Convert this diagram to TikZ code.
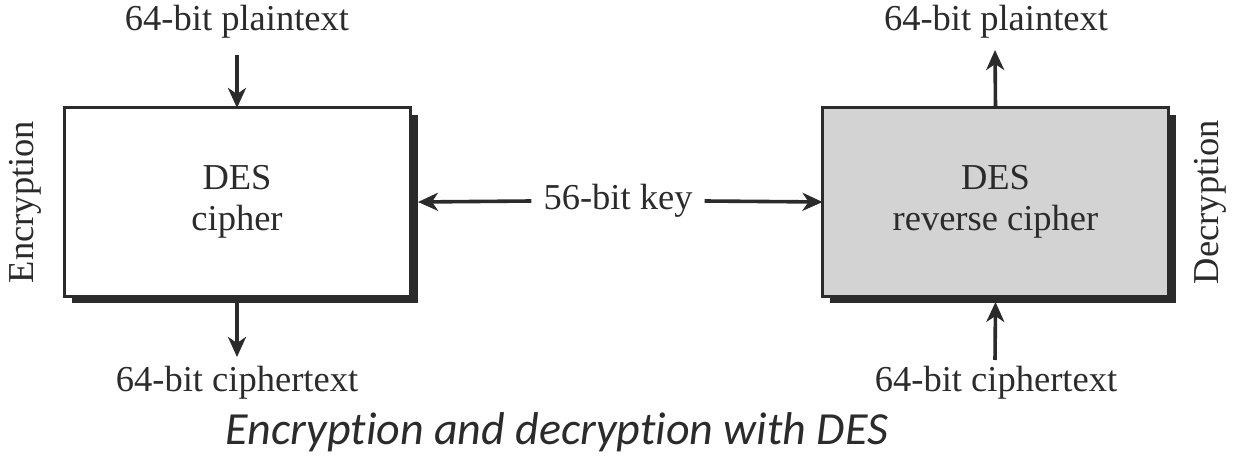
\documentclass[tikz,border=0pt]{standalone}
\usepackage{fontspec}
\setmainfont{Liberation Serif}
\newfontfamily\capfont[Ligatures={NoCommon}]{Carlito}
\usetikzlibrary{arrows.meta,shadows}
\definecolor{ink}{HTML}{2B2B2B}
\definecolor{boxgray}{HTML}{D3D3D3}
\begin{document}
\begin{tikzpicture}[x=1pt,y=-1pt,
  every node/.style={text=ink, font=\fontsize{36.5}{40}\selectfont},
  cbox/.style={draw=ink, line width=3pt, minimum width=346pt, minimum height=188pt, align=center, inner sep=0pt, outer sep=0pt,
    drop shadow={shadow xshift=7.5pt, shadow yshift=-7pt, fill=ink, opacity=1}},
  arr/.style={draw=ink, line width=3.6pt, -{Stealth[length=20pt,width=18pt,inset=6pt]}},
  lbl/.style={inner sep=0pt}]
\useasboundingbox (0,0) rectangle (1233,457);
\node[cbox, fill=white] (enc) at (237,202) {DES\\[1pt]cipher};
\node[cbox, fill=boxgray] (dec) at (995.5,202) {DES\\[1pt]reverse cipher};
\node[lbl] (pt1) at (237,22) {64-bit plaintext};
\node[lbl] (ct1) at (237,383) {64-bit ciphertext};
\node[lbl] (pt2) at (996,22) {64-bit plaintext};
\node[lbl] (ct2) at (996,383) {64-bit ciphertext};
\node[lbl] (key) at (618,201) {56-bit key};
\node[lbl, rotate=90] (encl) at (25,202) {Encryption};
\node[lbl, rotate=90] (decl) at (1210,202) {Decryption};
\node[lbl, font=\capfont\itshape\fontsize{46}{50}\selectfont] (cap) at (557,432) {Encryption and decryption with DES};
\coordinate (a1) at (237,55);
\coordinate (a2) at (237,357);
\coordinate (a3) at (995,50);
\coordinate (a4) at (995,360);
\draw[arr] (a1) -- (enc.north);
\draw[arr] ([yshift=-6pt]enc.south) -- (a2);
\draw[arr] (dec.north) -- (a3);
\draw[arr] (a4) -- ([yshift=-6pt]dec.south);
\draw[arr] ([xshift=-12pt]key.west) -- ([xshift=8pt]enc.east);
\draw[arr] ([xshift=12pt]key.east) -- (dec.west);
\end{tikzpicture}
\end{document}
